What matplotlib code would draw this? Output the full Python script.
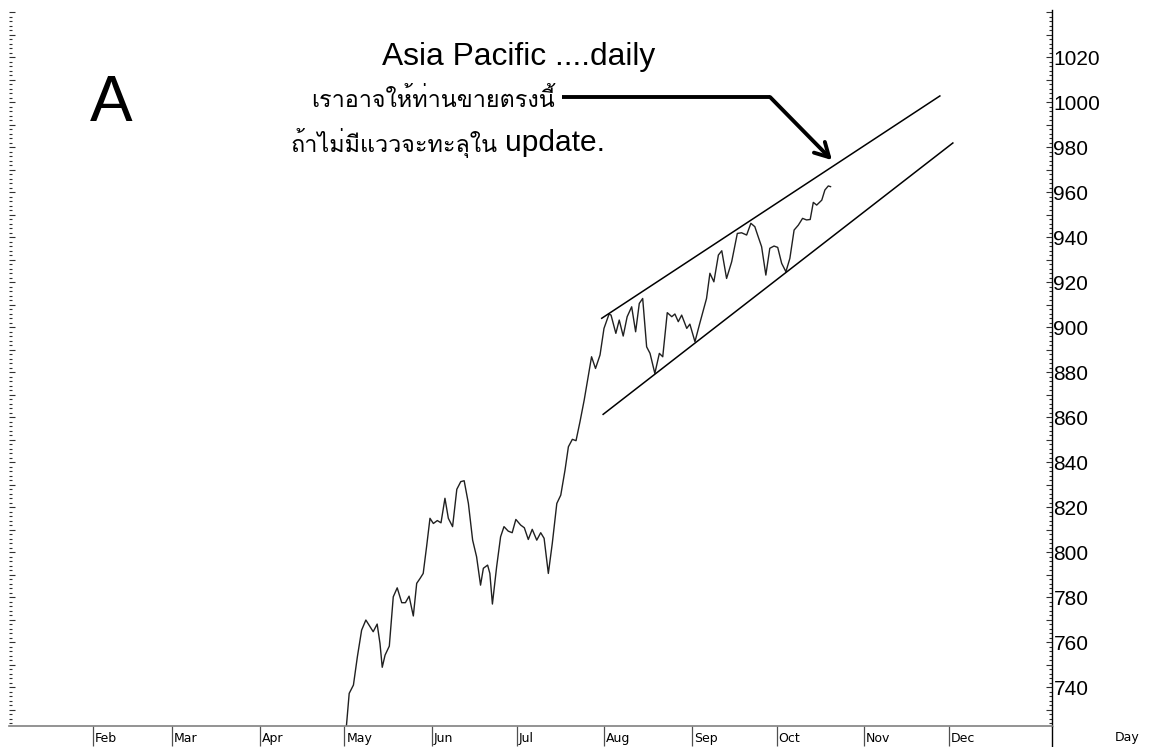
import numpy as np
import matplotlib
matplotlib.use('Agg')
import matplotlib.pyplot as plt
import matplotlib.ticker as ticker
import matplotlib.transforms as mtransforms
from matplotlib import font_manager

# Thai text needs a font with Thai glyphs; Loma looks closest to the original.
installed = set(f.name for f in font_manager.fontManager.ttflist)
thai_pick = [n for n in ['Loma', 'Garuda', 'IBM Plex Sans Thai Looped', 'Noto Sans Thai Looped',
                         'Noto Sans Thai'] if n in installed][:1]

# Price series (day of year, index level).
days = [120.4, 121.7, 123.2, 124.6, 126.1, 127.6, 129.1, 130.2, 131.6, 132.6,
        133.4, 134.4, 135.9, 137.3, 138.7, 140.3, 141.6, 142.9, 144.4, 145.6,
        146.8, 147.9, 149.1, 150.3, 151.5, 152.9, 154.2, 155.6, 156.8, 158.3,
        159.8, 161.2, 162.4, 163.9, 165.4, 166.8, 168.2, 169.2, 170.7, 171.5,
        172.4, 173.9, 175.3, 176.5, 178.0, 179.4, 180.7, 182.4, 183.7, 185.1,
        186.5, 188.1, 189.5, 190.7, 192.2, 193.6, 195.2, 196.6, 198.1, 199.3,
        200.7, 202.0, 203.4, 204.9, 207.5, 208.9, 210.5, 211.9, 213.7, 214.4,
        216.1, 217.3, 218.7, 220.1, 221.7, 223.1, 224.4, 225.6, 227.0, 228.2,
        229.9, 231.5, 232.7, 234.3, 235.9, 237.0, 238.2, 239.4, 241.2, 242.3,
        244.1, 245.8, 248.2, 249.4, 250.8, 252.4, 253.6, 255.3, 257.1, 259.1,
        260.6, 262.4, 263.9, 265.3, 266.5, 267.7, 269.2, 270.6, 272.1, 273.4,
        274.8, 276.3, 277.7, 279.2, 280.7, 282.2, 283.6, 284.9, 286.0, 287.2,
        289.0, 290.1, 291.3, 292.1]
prices = [718, 737.2, 740.9, 753.5, 765.3, 769.8, 766.8, 764.6, 768.0, 759.4,
          748.8, 754.2, 758.2, 780.1, 784.1, 777.5, 777.5, 780.4, 771.6, 786.1,
          788.3, 790.5, 802.4, 815.0, 812.7, 814.0, 813.0, 823.9, 815.0, 811.3,
          827.9, 831.3, 831.7, 821.6, 805.3, 797.9, 785.3, 792.8, 794.2, 790.5,
          776.9, 793.5, 806.8, 811.3, 809.3, 808.6, 814.5, 812.0, 810.8, 805.6,
          810.1, 805.3, 808.6, 806.1, 790.5, 803.9, 821.6, 825.3, 836.4, 846.8,
          850.1, 849.5, 857.9, 867.6, 886.8, 881.6, 887.6, 899.4, 905.8, 905.3,
          897.2, 903.1, 896.0, 904.6, 909.0, 897.9, 910.5, 912.7, 891.2, 888.3,
          879.4, 888.3, 886.8, 906.4, 904.6, 905.8, 902.4, 905.3, 899.4, 901.3,
          893.5, 901.6, 912.7, 923.9, 920.1, 932.0, 933.9, 921.6, 929.0, 941.6,
          941.9, 940.9, 946.1, 944.6, 940.1, 935.7, 923.1, 935.0, 936.0, 935.4,
          928.3, 924.6, 930.5, 943.1, 945.3, 948.3, 947.6, 947.8, 955.4, 954.2,
          956.4, 960.9, 962.7, 962.4]

# Channel lines.
upper_days = [211.1, 330.8]
upper_vals = [903.9, 1002.7]
lower_days = [211.6, 335.4]
lower_vals = [861.2, 981.8]

# Arrow path (start, corner, tip).
arrow_days = [197.0, 270.7, 292.6]
arrow_vals = [1002.2, 1002.2, 974.2]

month_days = [31, 59, 90, 120, 151, 181, 212, 243, 273, 304, 334]
month_labels = ['Feb', 'Mar', 'Apr', 'May', 'Jun', 'Jul', 'Aug', 'Sep', 'Oct', 'Nov', 'Dec']

title = 'Asia Pacific ....daily'
note1 = 'เราอาจให้ท่านขายตรงนี้'
note2_thai = 'ถ้าไม่มีแววจะทะลุใน'
note2_latin = 'update.'

plt.rcParams['font.family'] = ['Liberation Sans', 'DejaVu Sans']
thai_family = thai_pick + ['Liberation Sans', 'DejaVu Sans']

fig = plt.figure(figsize=(11.49, 7.47), dpi=100)
W, H = 1149, 747
ax = fig.add_axes([9 / W, 1 - 726 / H, (1052 - 9) / W, (726 - 10) / H])

ax.plot(days, prices, color='#202020', lw=1.0)
ax.plot(upper_days, upper_vals, color='black', lw=1.1)
ax.plot(lower_days, lower_vals, color='black', lw=1.1)

# Arrow
ax.plot(arrow_days[:2], arrow_vals[:2], color='black', lw=2.8, solid_capstyle='butt')
ax.annotate('', xy=(arrow_days[2], arrow_vals[2]), xytext=(arrow_days[1], arrow_vals[1]),
            arrowprops=dict(arrowstyle='->,head_length=1.0,head_width=0.55', lw=2.8, color='black',
                            shrinkA=0, shrinkB=0))

ax.set_xlim(1.27, 370.5)
ax.set_ylim(722.7, 1040.9)

for s in ['top', 'left']:
    ax.spines[s].set_visible(False)
ax.spines['bottom'].set_color('#808080')
ax.spines['bottom'].set_linewidth(1.2)
ax.spines['right'].set_color('black')
ax.spines['right'].set_linewidth(1.0)
ax.plot([1, 1], [-0.03, 0], transform=ax.transAxes, color='black', lw=1.0, clip_on=False)

# y ticks on both sides, labels on the right only
ax.yaxis.set_major_locator(ticker.MultipleLocator(10))
ax.yaxis.set_minor_locator(ticker.MultipleLocator(2))
ax.yaxis.set_major_formatter(ticker.FuncFormatter(
    lambda v, p: '%d' % v if int(round(v)) % 20 == 0 and v <= 1020 else ''))
ax.tick_params(axis='y', which='both', direction='in', left=True, right=True,
               labelleft=False, labelright=True, colors='#303030', labelcolor='black')
ax.tick_params(axis='y', which='major', length=4, width=0.8, labelsize=15, pad=1)
ax.tick_params(axis='y', which='minor', length=2, width=0.8)

# month ticks
ax.set_xticks(month_days)
ax.set_xticklabels(month_labels, fontsize=9, family='DejaVu Sans', ha='left')
ax.tick_params(axis='x', direction='out', length=14.5, width=0.9, color='#505050', pad=-10.5)
offset = mtransforms.ScaledTranslation(2 / 100, 0, fig.dpi_scale_trans)
for lab in ax.get_xticklabels():
    lab.set_transform(lab.get_transform() + offset)

fig.text(1127 / W, 1 - 738 / H, 'Day', fontsize=9, family='DejaVu Sans', ha='center', va='center')

# Annotations
fig.text(519 / W, 1 - 57 / H, title, fontsize=22.9, ha='center', va='center')
fig.text(111.5 / W, 1 - 104 / H, 'A', fontsize=46, ha='center', va='center')
fig.text(311 / W, 1 - 100 / H, note1, fontsize=16.8, family=thai_family, ha='left', va='center')
fig.text(291 / W, 1 - 143 / H, note2_thai, fontsize=16.8, family=thai_family, ha='left', va='center')
fig.text(505 / W, 1 - 143 / H, note2_latin, fontsize=21.5, ha='left', va='center')

fig.savefig('out.png', dpi=100)
